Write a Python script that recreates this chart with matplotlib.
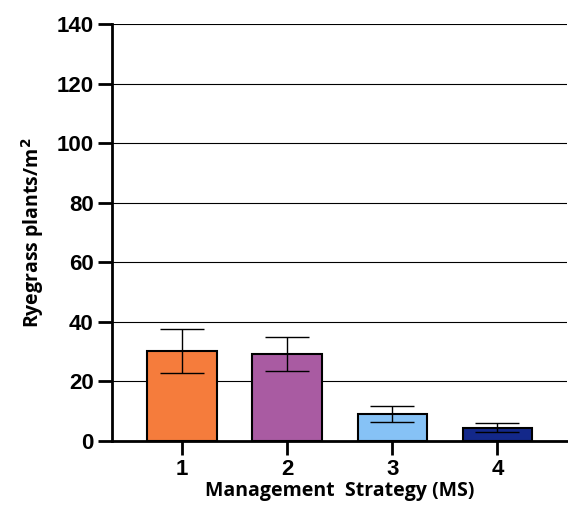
import matplotlib
matplotlib.use("Agg")
from matplotlib import pyplot as plt
from matplotlib import font_manager as fm

strategies = ["1", "2", "3", "4"]
plants = [30.1, 29.2, 9.0, 4.5]
errors = [7.4, 5.7, 2.7, 1.6]
colors = ["#F57C3C", "#A95BA2", "#86C2F6", "#13288A"]

# pick the normal-width Liberation Sans Bold (not Narrow)
tick_font = None
for f in fm.fontManager.ttflist:
    if f.name == "Liberation Sans" and f.weight in (700, "bold") and f.style == "normal" \
            and "Narrow" not in f.fname:
        tick_font = fm.FontProperties(fname=f.fname, size=16)
        break
if tick_font is None:
    tick_font = fm.FontProperties(family="DejaVu Sans", weight="bold", size=15)

fig = plt.figure(figsize=(5.68, 5.05), dpi=100)
ax = fig.add_axes([0.197, 0.1267, 0.801, 0.8258])

pos = [1, 2, 3, 4]
ax.bar(pos, plants, width=0.66, color=colors, edgecolor="black", linewidth=1.5, zorder=3)
ax.errorbar(pos, plants, yerr=errors, fmt="none", ecolor="black", elinewidth=1,
            capsize=16, capthick=1, zorder=4)

ax.set_xlim(0.333, 4.66)
ax.set_ylim(0, 140)
ax.set_yticks(range(0, 141, 20))
ax.set_xticks(pos)
ax.set_xticklabels(strategies)

ax.yaxis.grid(True, color="black", linewidth=0.8, zorder=0)
ax.set_axisbelow(True)

for s in ["top", "right"]:
    ax.spines[s].set_visible(False)
for s in ["left", "bottom"]:
    ax.spines[s].set_linewidth(2)

ax.tick_params(axis="both", length=10, width=2, pad=3)
for lab in ax.get_xticklabels() + ax.get_yticklabels():
    lab.set_fontproperties(tick_font)

ax.set_ylabel("Ryegrass plants/m$^\\mathbf{2}$", fontsize=14, fontweight="bold",
              fontfamily="Open Sans", labelpad=8)
ax.set_xlabel("Management  Strategy (MS)", fontsize=14, fontweight="bold",
              fontfamily="Open Sans", labelpad=1)

fig.savefig("out.png", dpi=100)
